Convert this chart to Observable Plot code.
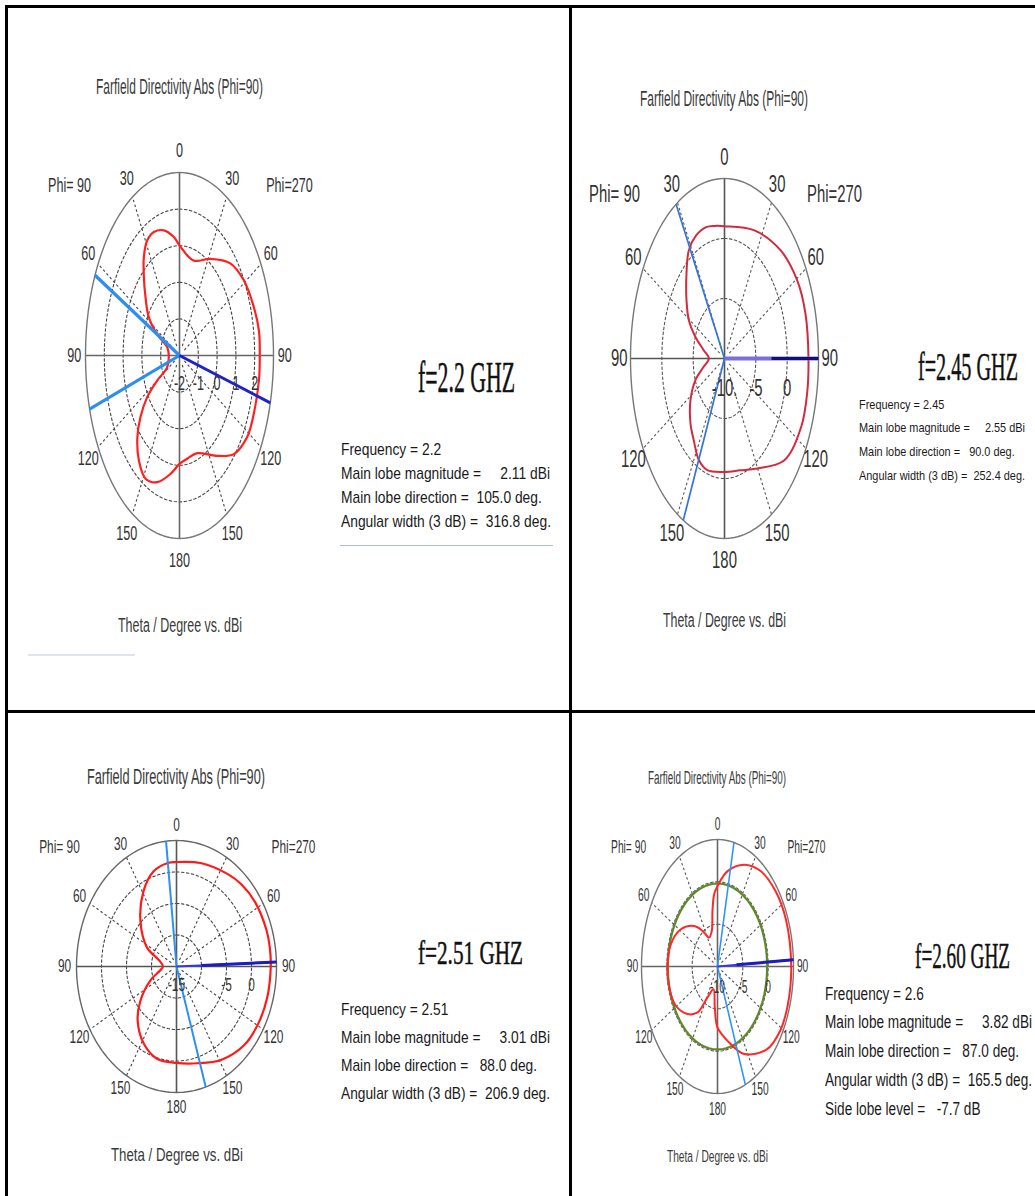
<!DOCTYPE html>
<html>
<head>
<meta charset="utf-8">
<script src="https://cdn.jsdelivr.net/npm/d3@7"></script>
<script src="https://cdn.jsdelivr.net/npm/@observablehq/plot@0.6"></script>
<style>
  html, body { margin: 0; padding: 0; background: #fff; }
  #page { position: relative; width: 1035px; height: 1196px; overflow: hidden; background: #fff; }
  .rule { position: absolute; }
  .txt { position: absolute; white-space: pre; transform-origin: 0 0; line-height: 1; }
  .plotbox { position: absolute; }
</style>
</head>
<body>
<div id="page"></div>
<script>
// ---------------- DATA ----------------
const chartTitle = "Farfield Directivity Abs (Phi=90)";
const axisCaption = "Theta / Degree vs. dBi";
const freqLabels = ["f=2.2 GHZ", "f=2.45 GHZ", "f=2.51 GHZ", "f=2.60 GHZ"];
const frequency = ["2.2", "2.45", "2.51", "2.6"];
const mainLobeMag = ["2.11", "2.55", "3.01", "3.82"];
const mainLobeDir = [105.0, 90.0, 88.0, 87.0];
const angularWidth = ["316.8", "252.4", "206.9", "165.5"];
const sideLobeLevel = "-7.7";
// 3 dB beam edge directions (clockwise from the top of each polar plot)
const beamEdges = [[296, 253], [329, 206], [354, 163], [12.5, 158.5]];

// pattern: screen angle clockwise from 0 (top), 0..180 on the Phi=270 side, 180..360 on the Phi=90 side
const theta22 = [0, 16, 32, 47, 59, 71.5, 81, 90, 99, 112, 122, 133, 144, 160.6, 171.7, 180, 188.4, 199, 208, 217, 225, 231, 236.5, 240, 244, 270, 289, 296, 302.7, 311.4, 318.5, 324.8, 331.3, 338, 346.3, 354.7];
const dbi22 = [1.01, 0.70, 1.11, 1.69, 1.99, 2.17, 2.28, 2.27, 2.28, 2.26, 2.23, 1.95, 1.39, 0.83, 0.85, 0.96, 1.27, 1.66, 1.82, 1.59, 1.17, 0.67, 0.06, -0.63, -1.27, -1.43, -1.31, -0.67, -0.06, 0.41, 0.86, 1.29, 1.58, 1.64, 1.52, 1.25];

const theta245 = [0, 23.6, 44.7, 60.6, 73.8, 90, 102.5, 115, 131.8, 150.3, 165, 180, 196.5, 205.8, 215.7, 225, 237.5, 248.8, 258.2, 270, 281.8, 291.2, 299.3, 308.7, 319.4, 327.8, 336, 345, 352];
const dbi245 = [1.03, 1.67, 2.7, 3.3, 3.45, 3.4, 3.5, 3.5, 2.75, 0.55, -0.35, -0.55, -0.3, -0.6, -1.6, -2.33, -3.56, -5.03, -6.6, -7.5, -6.6, -5.03, -3.48, -2.23, -0.68, 0.67, 1.2, 1.33, 1.16];

const theta251 = [0, 16.4, 35, 45, 57, 72, 81, 90, 105, 119, 133, 149, 165, 180, 195, 208, 222, 233, 247, 258.6, 270, 285, 297, 315, 331, 343, 353.5];
const dbi251 = [1.58, 2.12, 2.9, 3.4, 3.75, 3.9, 3.9, 3.85, 3.8, 3.7, 3.4, 2.3, 0.9, 0.3, 0.15, -1.1, -3.4, -5.96, -9.3, -11.6, -12.3, -11.5, -8.4, -4.8, -1.36, 0.78, 1.5];

const theta260 = [0, 10, 23.6, 36.7, 51.8, 67.8, 90, 108.5, 121.8, 135.2, 153, 167.3, 180, 186.2, 196.5, 208.5, 216, 226.6, 240.6, 255.5, 269.3, 285.9, 301.3, 316, 325, 334, 345, 351.4, 355.6];
const dbi260 = [-0.5, 1.44, 3.1, 4.1, 4.5, 4.6, 4.55, 4.6, 4.5, 3.8, 1.6, -1.0, -2.8, -5.1, -7.2, -5.85, -3.3, -1.84, -0.56, -0.15, -0.13, -0.42, -1.54, -3.36, -4.86, -6.2, -5.65, -3.37, -1.45];
const levelCircle260 = -0.2;

const radialDomain = [[-2, 3], [-10, 5], [-15, 5], [-10, 5]];
const ringValues = [[-1, 0, 1, 2], [-5, 0], [-10, -5, 0], [-5, 0]];
const radialTicks = [[-2, -1, 0, 1, 2], [-10, -5, 0], [-15, -5, 0], [-10, -5, 0]];
const radialTickText = [["-2", "-1", "0", "1", "2"], ["-10.", "-5", "0"], ["-15", "-5", "0"], ["-10", "-5", "0"]];
const angleTicks = [0, 30, 60, 90, 120, 150, 180];
const spokeAngles = [30, 60, 120, 150, 210, 240, 300, 330];
const phiLabels = [{side: -1, text: "Phi= 90"}, {side: 1, text: "Phi=270"}];

// ---------------- LAYOUT / STYLE ----------------
const SANS = "'Liberation Sans', Arial, 'DejaVu Sans', sans-serif";
const SERIF = "'Liberation Serif', 'Times New Roman', 'DejaVu Serif', serif";
const layout = [
  {box: [20, 120, 320, 470], center: [179, 355], radius: [94, 183], fs: 21, sx: 0.6, tickDy: 28, phiY: 0.93,
   red: "#ff2020", redW: 2.2, beam: "#2b8ef0", beamW: 3.2, main: "#2020cc", mainW: 3, outer: null,
   grid: "#444", axis: "#666", rim: "#777", label: "#333"},
  {box: [570, 130, 310, 470], center: [724, 358], radius: [94, 180], fs: 24, sx: 0.62, tickDy: 30, phiY: 0.91,
   red: "#d42a3c", redW: 2, beam: "#3575d5", beamW: 1.7, main: "#7a70d8", mainW: 4, outer: {r0: 0.5, color: "#12126e", w: 3.2},
   grid: "#555", axis: "#555", rim: "#777", label: "#333"},
  {box: [20, 800, 320, 330], center: [176, 966], radius: [100, 126], fs: 18, sx: 0.66, tickDy: 19, phiY: 0.95,
   red: "#ff1a1a", redW: 2.2, beam: "#2e90f0", beamW: 2, main: "#3535f0", mainW: 2, outer: {r0: 0.25, color: "#1c1cc0", w: 3},
   grid: "#444", axis: "#555", rim: "#666", label: "#333"},
  {box: [585, 800, 260, 330], center: [717, 966], radius: [76, 127], fs: 18, sx: 0.57, tickDy: 21, phiY: 0.94,
   red: "#ff2828", redW: 2, beam: "#2e95f5", beamW: 1.6, main: "#3535f0", mainW: 2, outer: {r0: 0.25, color: "#1c1cc0", w: 3},
   grid: "#555", axis: "#666", rim: "#777", label: "#333"}
];

const page = document.getElementById("page");

function rule(l, t, w, h, color) {
  const d = document.createElement("div");
  d.className = "rule";
  Object.assign(d.style, {left: l + "px", top: t + "px", width: w + "px", height: h + "px", background: color});
  page.appendChild(d);
}

function polarChart(i, theta, dbi) {
  const L = layout[i];
  const [bl, bt, bw, bh] = L.box;
  const [cx, cy] = L.center, [rx, ry] = L.radius;
  const rad = d3.scaleLinear().domain(radialDomain[i]).range([0, 1]);
  const X = (a, r) => r * Math.sin(a * Math.PI / 180);
  const Y = (a, r) => r * Math.cos(a * Math.PI / 180);
  const loop = (r, key) => d3.range(0, 360, 2).map(a => ({a, r, key}));
  const pattern = theta.map((a, k) => ({a, r: rad(dbi[k])}));
  const rings = ringValues[i].flatMap(v => loop(rad(v), v));
  const angleLabels = angleTicks.flatMap(t => (t % 180 === 0) ? [{a: t, t}] : [{a: t, t}, {a: 360 - t, t}]);
  const ticks = radialTicks[i].map((v, k) => ({v, label: radialTickText[i][k]}));
  const px = d => X(d.a, d.r), py = d => Y(d.a, d.r);
  const marks = [
    Plot.line(rings, {x: px, y: py, z: "key", curve: "linear-closed", stroke: L.grid, strokeWidth: 1.1, strokeDasharray: "2.5,2.5"}),
    Plot.link(spokeAngles, {x1: a => X(a, 0.06), y1: a => Y(a, 0.06), x2: a => X(a, 1), y2: a => Y(a, 1), stroke: L.grid, strokeWidth: 1.1, strokeDasharray: "2.5,2.5"}),
    Plot.link([0, 90], {x1: a => X(a, -1), y1: a => Y(a, -1), x2: a => X(a, 1), y2: a => Y(a, 1), stroke: L.axis, strokeWidth: 1.6}),
    Plot.line(loop(1, "rim"), {x: px, y: py, curve: "linear-closed", stroke: L.rim, strokeWidth: 1.4})
  ];
  if (i === 3) marks.push(Plot.line(loop(rad(levelCircle260), "lvl"), {x: px, y: py, curve: "linear-closed", stroke: "#62882c", strokeWidth: 2.2}));
  marks.push(Plot.line(pattern, {x: px, y: py, curve: "catmull-rom-closed", stroke: L.red, strokeWidth: L.redW}));
  marks.push(Plot.link(beamEdges[i], {x1: () => 0, y1: () => 0, x2: a => X(a, 1), y2: a => Y(a, 1), stroke: L.beam, strokeWidth: L.beamW}));
  const dir = mainLobeDir[i];
  marks.push(Plot.link([dir], {x1: () => 0, y1: () => 0, x2: a => X(a, 1), y2: a => Y(a, 1), stroke: L.main, strokeWidth: L.mainW}));
  if (L.outer) marks.push(Plot.link([dir], {x1: a => X(a, L.outer.r0), y1: a => Y(a, L.outer.r0), x2: a => X(a, 1), y2: a => Y(a, 1), stroke: L.outer.color, strokeWidth: L.outer.w}));
  marks.push(Plot.text(angleLabels, {x: d => X(d.a, 1.12), y: d => Y(d.a, 1.12), text: d => String(d.t), fontSize: L.fs, fill: L.label}));
  marks.push(Plot.text(ticks, {x: d => rad(d.v), y: () => 0, dy: L.tickDy, text: "label", fontSize: L.fs, fill: L.label}));
  marks.push(Plot.text(phiLabels, {x: d => d.side * 1.17, y: () => L.phiY, text: "text", fontSize: L.fs, fill: L.label}));

  const svg = Plot.plot({
    width: bw, height: bh, margin: 0,
    x: {domain: [-1, 1], range: [cx - rx - bl, cx + rx - bl], axis: null},
    y: {domain: [-1, 1], range: [cy + ry - bt, cy - ry - bt], axis: null},
    style: {background: "transparent", overflow: "visible", fontFamily: SANS},
    marks
  });
  svg.querySelectorAll("text").forEach(t => {
    const tr = t.getAttribute("transform");
    if (tr) t.setAttribute("transform", tr + ` scale(${L.sx},1)`);
    else {
      const x = +t.getAttribute("x") || 0;
      t.setAttribute("transform", `translate(${x},0) scale(${L.sx},1) translate(${-x},0)`);
    }
  });
  const holder = document.createElement("div");
  holder.className = "plotbox";
  Object.assign(holder.style, {left: bl + "px", top: bt + "px", width: bw + "px", height: bh + "px"});
  holder.appendChild(svg);
  page.appendChild(holder);
}

function makeText(str, fs, family, color) {
  const el = document.createElement("div");
  el.className = "txt";
  el.textContent = str;
  el.style.fontFamily = family;
  el.style.fontSize = fs + "px";
  el.style.color = color;
  page.appendChild(el);
  return el;
}
function placeText(str, o) {
  const family = o.family || SANS;
  const asc = family === SERIF ? 0.8375 : 0.8465;
  const el = makeText(str, o.fs, family, o.color || "#222");
  if (o.strokeW) el.style.webkitTextStroke = o.strokeW + "px " + (o.color || "#222");
  const w = el.getBoundingClientRect().width;
  const s = o.scale != null ? o.scale : o.width / w;
  el.style.transform = `scaleX(${s})`;
  el.style.left = (o.cx != null ? o.cx - w * s / 2 : o.left) + "px";
  el.style.top = (o.baseline - asc * o.fs) + "px";
  return s;
}
function measureScale(str, fs, width) {
  const el = makeText(str, fs, SANS, "#000");
  const w = el.getBoundingClientRect().width;
  el.remove();
  return width / w;
}

// ---------------- DRAW ----------------
polarChart(0, theta22, dbi22);
polarChart(1, theta245, dbi245);
polarChart(2, theta251, dbi251);
polarChart(3, theta260, dbi260);

// frame
rule(5, 5, 1030, 3, "#000");
rule(5, 5, 3, 1191, "#000");
rule(568.5, 5, 3, 1191, "#000");
rule(5, 709.5, 1030, 3, "#000");
rule(340, 544.5, 213, 1.5, "#a9bfdc");
rule(28, 653.5, 107, 2, "#dfe5ee");

const titlePos = [
  {cx: 179.5, baseline: 95, fs: 22, width: 167},
  {cx: 724, baseline: 107, fs: 22, width: 168},
  {cx: 176, baseline: 785, fs: 22, width: 178},
  {cx: 717, baseline: 784, fs: 18, width: 138}
];
const captionPos = [
  {cx: 180, baseline: 632, fs: 20, width: 124},
  {cx: 724.5, baseline: 627, fs: 20, width: 123},
  {cx: 177, baseline: 1161, fs: 19, width: 132},
  {cx: 717.5, baseline: 1163, fs: 16, width: 101}
];
const bigPos = [
  {left: 418, baseline: 393, fs: 44, width: 97},
  {left: 918, baseline: 380, fs: 41, width: 100},
  {left: 418, baseline: 965, fs: 33, width: 105},
  {left: 915, baseline: 968, fs: 35, width: 95}
];
const infoPos = [
  {left: 341, baselines: [455, 479, 503, 527], fs: 17, width: 210},
  {left: 859, baselines: [409, 432, 456, 480], fs: 13.5, width: 166},
  {left: 341, baselines: [1015, 1043, 1071, 1099], fs: 17, width: 209},
  {left: 825, baselines: [1000, 1028, 1057, 1086, 1115], fs: 18, width: 207}
];

for (let i = 0; i < 4; i++) {
  placeText(chartTitle, {...titlePos[i], color: "#3a3a3a"});
  placeText(axisCaption, {...captionPos[i], color: "#3a3a3a"});
  placeText(freqLabels[i], {...bigPos[i], family: SERIF, color: "#111", strokeW: 0.5});
  const lines = [
    `Frequency = ${frequency[i]}`,
    `Main lobe magnitude =     ${mainLobeMag[i]} dBi`,
    `Main lobe direction =  ${mainLobeDir[i].toFixed(1).padStart(5, " ")} deg.`,
    `Angular width (3 dB) =  ${angularWidth[i]} deg.`
  ];
  if (i === 3) lines.push(`Side lobe level =   ${sideLobeLevel} dB`);
  const P = infoPos[i];
  const s = measureScale(lines[3], P.fs, P.width);
  lines.forEach((str, k) => placeText(str, {left: P.left, baseline: P.baselines[k], fs: P.fs, scale: s, color: "#1a1a1a"}));
}
</script>
</body>
</html>
